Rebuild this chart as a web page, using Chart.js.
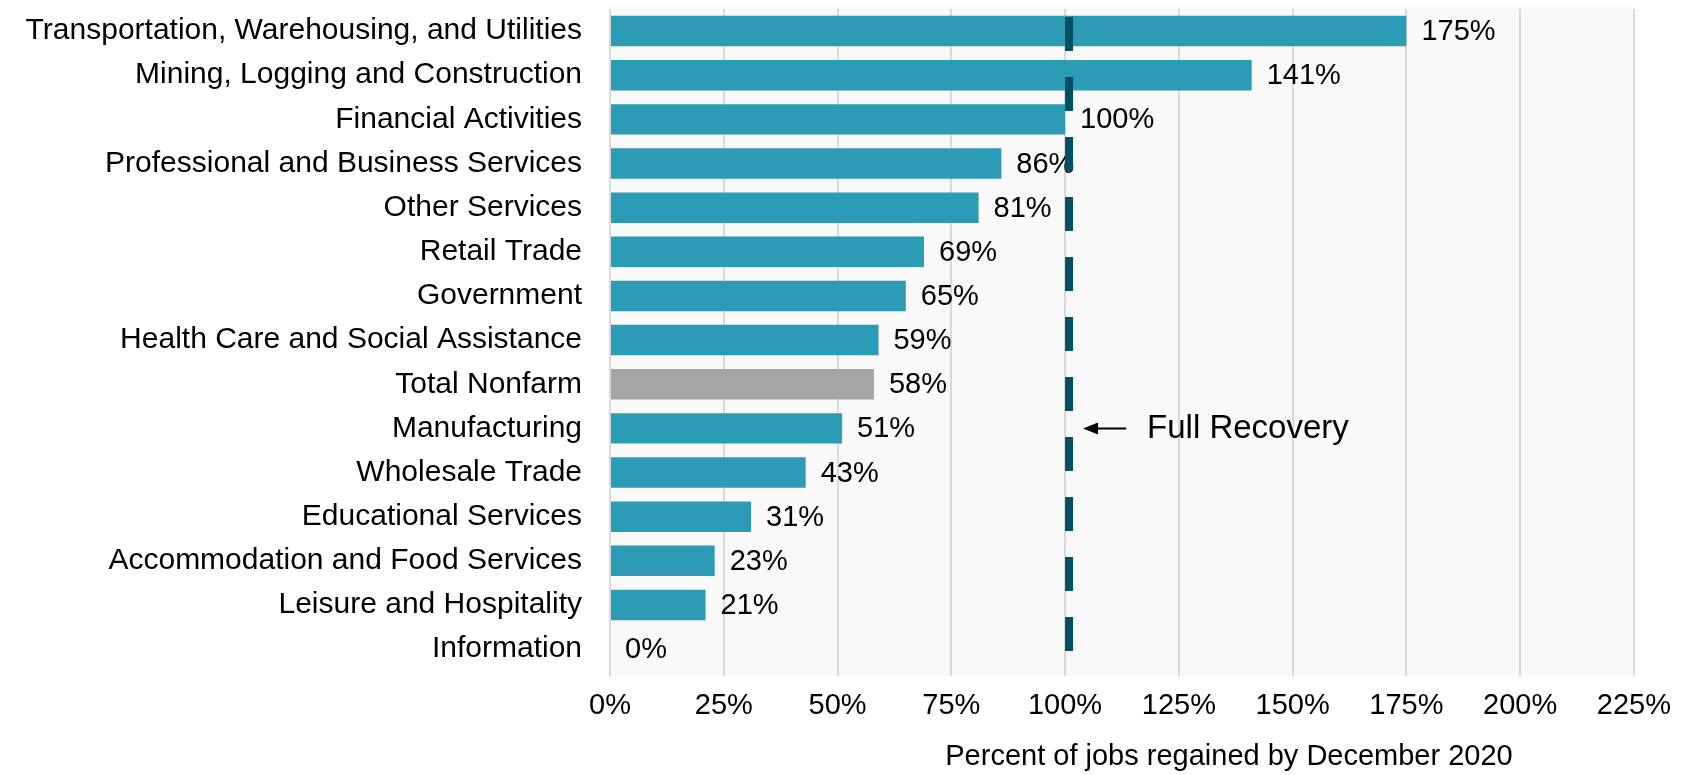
<!DOCTYPE html>
<html>
<head>
<meta charset="utf-8">
<script src="https://cdn.jsdelivr.net/npm/chart.js@4/dist/chart.umd.min.js"></script>
<style>
  html, body { margin: 0; padding: 0; background: #fff; }
  #wrap { width: 1683px; height: 775px; }
</style>
</head>
<body>
<div id="wrap"><canvas id="jobsChart" width="1683" height="775"></canvas></div>
<script>
// industries, top to bottom
const industries = [
  'Transportation, Warehousing, and Utilities',
  'Mining, Logging and Construction',
  'Financial Activities',
  'Professional and Business Services',
  'Other Services',
  'Retail Trade',
  'Government',
  'Health Care and Social Assistance',
  'Total Nonfarm',
  'Manufacturing',
  'Wholesale Trade',
  'Educational Services',
  'Accommodation and Food Services',
  'Leisure and Hospitality',
  'Information'
];
// percent of jobs regained by December 2020
const regained = [175, 141, 100, 86, 81, 69, 65, 59, 58, 51, 43, 31, 23, 21, 0];
const xTicks = [0, 25, 50, 75, 100, 125, 150, 175, 200, 225];
const fullRecovery = 100;
const axisTitle = 'Percent of jobs regained by December 2020';
const recoveryLabel = 'Full Recovery';

const FONT = '"Liberation Sans", Arial, sans-serif';
const teal = '#2C9BB5';
const grey = '#A5A5A5';
const darkLine = '#024E62';

const barColors = industries.map(n => n === 'Total Nonfarm' ? grey : teal);

// plot background + reference line + labels
const extras = {
  id: 'extras',
  beforeDraw(chart) {
    const a = chart.chartArea, ctx = chart.ctx;
    ctx.save();
    ctx.fillStyle = '#F9F9F9';
    ctx.fillRect(a.left, a.top - 2, a.right - a.left, a.bottom - a.top + 7);
    ctx.restore();
  },
  afterDatasetsDraw(chart) {
    const ctx = chart.ctx, a = chart.chartArea;
    const xs = chart.scales.x, ys = chart.scales.y;
    ctx.save();

    // value labels
    ctx.font = '29px ' + FONT;
    ctx.fillStyle = '#000';
    ctx.textBaseline = 'middle';
    ctx.textAlign = 'left';
    chart.getDatasetMeta(0).data.forEach((bar, i) => {
      ctx.fillText(regained[i] + '%', bar.x + 15, bar.y + 1);
    });

    // full recovery dashed line
    const lx = xs.getPixelForValue(fullRecovery) + 4;
    ctx.strokeStyle = darkLine;
    ctx.lineWidth = 8;
    ctx.lineCap = 'butt';
    ctx.setLineDash([34, 26]);
    ctx.lineDashOffset = 50;
    ctx.beginPath();
    ctx.moveTo(lx, a.top - 2);
    ctx.lineTo(lx, a.bottom + 5);
    ctx.stroke();
    ctx.setLineDash([]);

    // arrow + label beside Manufacturing row
    const ay = ys.getPixelForValue(industries.indexOf('Manufacturing'));
    const ax0 = lx + 14, ax1 = lx + 57;
    ctx.strokeStyle = '#000';
    ctx.lineWidth = 2;
    ctx.beginPath();
    ctx.moveTo(ax0 + 8, ay);
    ctx.lineTo(ax1, ay);
    ctx.stroke();
    ctx.fillStyle = '#000';
    ctx.beginPath();
    ctx.moveTo(ax0, ay);
    ctx.lineTo(ax0 + 15, ay - 6);
    ctx.lineTo(ax0 + 15, ay + 6);
    ctx.closePath();
    ctx.fill();
    ctx.font = '33px ' + FONT;
    ctx.fillText(recoveryLabel, lx + 78, ay + 1);

    // axis title
    ctx.font = '29px ' + FONT;
    ctx.textAlign = 'center';
    ctx.fillText(axisTitle, 1229, 757);
    ctx.restore();
  }
};

new Chart(document.getElementById('jobsChart'), {
  type: 'bar',
  data: {
    labels: industries,
    datasets: [{
      data: regained,
      backgroundColor: barColors,
      borderWidth: 0,
      categoryPercentage: 1,
      barPercentage: 0.69
    }]
  },
  options: {
    indexAxis: 'y',
    responsive: false,
    animation: false,
    layout: { autoPadding: false, padding: { top: 9, right: 47, bottom: 40, left: 0 } },
    plugins: {
      legend: { display: false },
      tooltip: { enabled: false }
    },
    scales: {
      x: {
        min: 0,
        max: 225,
        afterBuildTicks: s => { s.ticks = xTicks.map(v => ({ value: v })); },
        ticks: {
          callback: v => v + '%',
          font: { family: FONT, size: 29 },
          color: '#000',
          padding: 12,
          maxRotation: 0
        },
        grid: { color: '#D9D9D9', lineWidth: 2, drawTicks: true, tickLength: 5, tickColor: '#D9D9D9' },
        border: { display: false }
      },
      y: {
        afterFit: s => { s.width = 610; },
        ticks: {
          font: { family: FONT, size: 30, lineHeight: 0.4 },
          color: '#000',
          padding: 0,
          autoSkip: false
        },
        grid: { display: false, drawTicks: true, tickLength: 28, tickColor: 'rgba(0,0,0,0)' },
        border: { display: false }
      }
    }
  },
  plugins: [extras]
});
</script>
</body>
</html>
